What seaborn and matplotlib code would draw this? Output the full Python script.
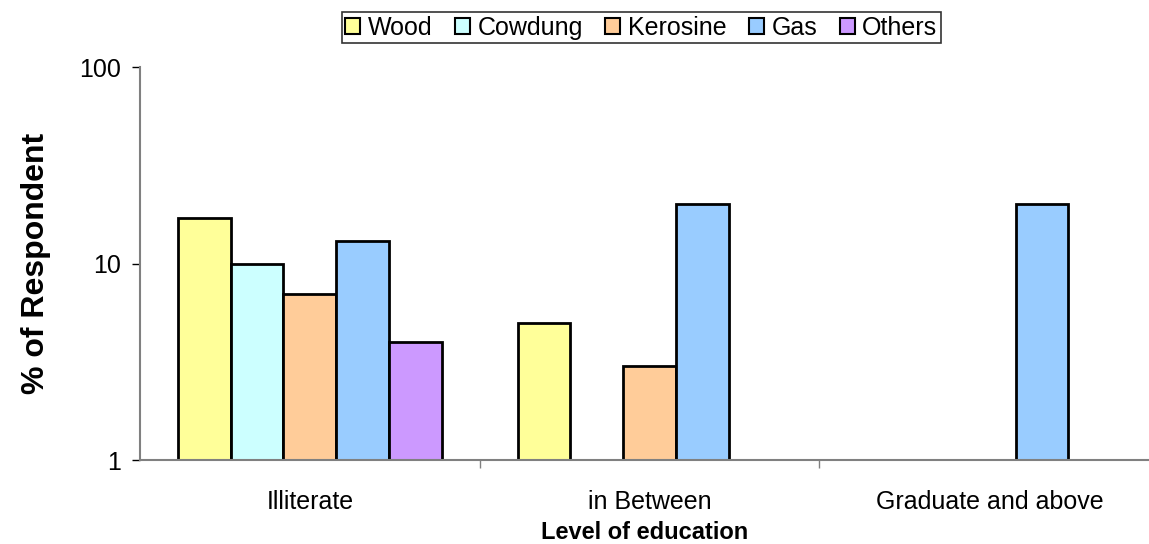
import numpy as np
import pandas as pd
import matplotlib
matplotlib.use("Agg")
import matplotlib.pyplot as plt
import seaborn as sns
from matplotlib.ticker import FixedLocator, NullLocator, FixedFormatter

# data (% of respondents, log scale)
levels = ["Illiterate", "in Between", "Graduate and above"]
fuels = ["Wood", "Cowdung", "Kerosine", "Gas", "Others"]
wood = [17, 5, np.nan]
cowdung = [10, np.nan, np.nan]
kerosine = [7, 3, np.nan]
gas = [13, 20, 20]
others = [4, np.nan, np.nan]
colors = ["#FFFF99", "#CCFFFF", "#FFCC99", "#99CCFF", "#CC99FF"]

df = pd.DataFrame({"Wood": wood, "Cowdung": cowdung, "Kerosine": kerosine,
                   "Gas": gas, "Others": others}, index=levels)
long_df = df.reset_index(names="level").melt(id_vars="level", var_name="fuel", value_name="pct")

sns.set_style("white", {"text.color": "black", "axes.labelcolor": "black",
                        "xtick.color": "black", "ytick.color": "black"})
plt.rcParams["font.family"] = ["Liberation Sans", "DejaVu Sans"]

fig = plt.figure(figsize=(11.49, 5.44), dpi=100)
ax = fig.add_axes([0.1218, 0.1544, 0.8782, 0.7224])
ax.set_yscale("log")

sns.barplot(data=long_df, x="level", y="pct", hue="fuel", order=levels, hue_order=fuels,
            palette=colors, width=0.776, edgecolor="black", linewidth=2,
            saturation=1, ax=ax, legend=False)

ax.set_ylim(1, 100)
ax.set_xlim(-0.5, 2.47)
ax.yaxis.set_major_locator(FixedLocator([1, 10, 100]))
ax.yaxis.set_major_formatter(FixedFormatter(["1", "10", "100"]))
ax.yaxis.set_minor_locator(NullLocator())
ax.tick_params(axis="y", which="major", left=True, length=6, width=1, color="black",
               labelcolor="black", labelsize=18, pad=8)

ax.set_xticks(range(len(levels)))
ax.set_xticklabels(levels, fontsize=18, color="black")
ax.set_xticks([0.5, 1.5], minor=True)
ax.tick_params(axis="x", which="major", bottom=False, pad=18)
ax.tick_params(axis="x", which="minor", bottom=True, length=6, width=1, color="#808080")

for s in ["top", "right"]:
    ax.spines[s].set_visible(False)
for s in ["left", "bottom"]:
    ax.spines[s].set_color("#808080")
    ax.spines[s].set_linewidth(1.5)

ax.set_xlabel("Level of education", fontsize=17, fontweight="bold", labelpad=5, color="black")
ax.set_ylabel("% of Respondent", fontsize=23, fontweight="bold", labelpad=20, color="black")

handles = [plt.Rectangle((0, 0), 1, 1, facecolor=c, edgecolor="black", linewidth=1.5) for c in colors]
leg = fig.legend(handles, fuels, loc="upper center", bbox_to_anchor=(0.5583, 0.978), ncol=5,
                 fontsize=18, frameon=True, fancybox=False, edgecolor="black",
                 handlelength=0.6, handleheight=0.6, handletextpad=0.3, columnspacing=0.9,
                 borderpad=0.15, borderaxespad=0, labelcolor="black")
leg.get_frame().set_linewidth(1.2)

fig.savefig("out.png", dpi=100)
